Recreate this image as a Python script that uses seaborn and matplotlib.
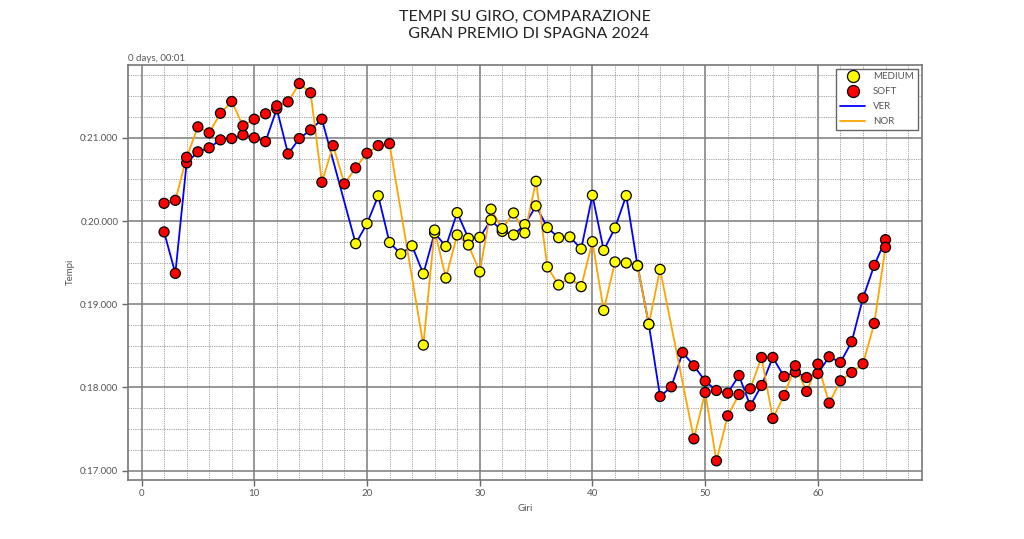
import numpy as np
import pandas as pd
import matplotlib
matplotlib.use("Agg")
import matplotlib.pyplot as plt
from matplotlib.ticker import MultipleLocator, FuncFormatter
import seaborn as sns

# ---------------- data (lap times in seconds) ----------------
ver_laps = [2, 3, 4, 5, 6, 7, 8, 9, 10, 11, 12, 13, 14, 15, 16,
            19, 20, 21, 22, 23, 24, 25, 26, 27, 28, 29, 30, 31, 32, 33, 34,
            35, 36, 37, 38, 39, 40, 41, 42, 43, 44, 45,
            46, 47, 48, 49, 50, 51, 52, 53, 54, 55, 56, 57, 58, 59, 60,
            61, 62, 63, 64, 65, 66]
ver_times = [79.869, 79.371, 80.699, 80.832, 80.880, 80.976, 80.992, 81.036, 81.000,
             80.955, 81.349, 80.807, 80.992, 81.096, 81.224,
             79.728, 79.969, 80.303, 79.742, 79.605, 79.702, 79.365, 79.857, 79.694,
             80.101, 79.792, 79.804, 80.013, 79.876, 79.833, 79.957,
             80.182, 79.921, 79.800, 79.809, 79.664, 80.309, 79.647, 79.917, 80.306,
             79.463, 78.759,
             77.890, 78.007, 78.420, 78.260, 78.076, 77.963, 77.931, 78.143, 77.779,
             78.023, 78.360, 78.131, 78.184, 78.119, 78.167,
             78.368, 78.300, 78.549, 79.075, 79.467, 79.776]
ver_compound = ["SOFT"] * 15 + ["MEDIUM"] * 27 + ["SOFT"] * 21

nor_laps = [2, 3, 4, 5, 6, 7, 8, 9, 10, 11, 12, 13, 14, 15, 16, 17, 18,
            19, 20, 21, 22,
            25, 26, 27, 28, 29, 30, 31, 32, 33, 34, 35, 36, 37, 38, 39, 40,
            41, 42, 43, 44, 45, 46,
            49, 50, 51, 52, 53, 54, 55, 56, 57, 58, 59, 60, 61, 62, 63, 64, 65, 66]
nor_times = [80.213, 80.249, 80.767, 81.132, 81.060, 81.296, 81.437, 81.144, 81.224,
             81.289, 81.385, 81.433, 81.653, 81.542, 80.466, 80.907, 80.446,
             80.639, 80.815, 80.907, 80.931,
             78.509, 79.892, 79.315, 79.833, 79.712, 79.389, 80.143, 79.909, 80.097,
             79.857, 80.478, 79.448, 79.231, 79.315, 79.211, 79.752,
             78.925, 79.508, 79.496, 79.463, 78.759, 79.419,
             77.381, 77.939, 77.117, 77.658, 77.915, 77.983, 78.360, 77.626, 77.903,
             78.260, 77.951, 78.280, 77.811, 78.079, 78.179, 78.284, 78.769, 79.684]
nor_compound = ["SOFT"] * 21 + ["MEDIUM"] * 22 + ["SOFT"] * 18

drivers = ["VER", "NOR"]
compounds = ["MEDIUM", "SOFT"]
driver_colors = {"VER": "blue", "NOR": "orange"}
compound_colors = {"MEDIUM": "yellow", "SOFT": "red"}

df = pd.concat([
    pd.DataFrame({"Giri": ver_laps, "Tempi": ver_times, "Compound": ver_compound, "Driver": "VER"}),
    pd.DataFrame({"Giri": nor_laps, "Tempi": nor_times, "Compound": nor_compound, "Driver": "NOR"}),
], ignore_index=True)

# ---------------- style ----------------
sns.set_theme(style="white")
plt.rcParams["font.family"] = ["Lato", "DejaVu Sans"]

fig, ax = plt.subplots(figsize=(10.24, 5.39), dpi=100)
fig.subplots_adjust(left=0.125, right=0.9, bottom=0.11, top=0.88)

sns.lineplot(data=df, x="Giri", y="Tempi", hue="Driver", hue_order=drivers,
             palette=driver_colors, linewidth=1.3, ax=ax, zorder=2)
sns.scatterplot(data=df, x="Giri", y="Tempi", hue="Compound", hue_order=compounds,
                palette=compound_colors, s=52, edgecolor="black", linewidth=0.9,
                ax=ax, zorder=3)

ax.margins(x=0.05, y=0.05)

# grid
ax.xaxis.set_major_locator(MultipleLocator(10))
ax.xaxis.set_minor_locator(MultipleLocator(2))
ax.yaxis.set_major_locator(MultipleLocator(1))
ax.yaxis.set_minor_locator(MultipleLocator(0.25))
ax.grid(which="major", color="#7a7a7a", linewidth=1.1, linestyle="-", zorder=0)
ax.grid(which="minor", color="#9a9a9a", linewidth=0.6, linestyle=(0, (1.5, 1.2)), zorder=0)
ax.set_axisbelow(True)

ax.yaxis.set_major_formatter(FuncFormatter(lambda v, p: "0:{:06.3f}".format(v - 60)))

for sp in ax.spines.values():
    sp.set_color("#777777")
    sp.set_linewidth(1.2)

ax.tick_params(axis="both", which="major", bottom=True, left=True, length=4,
               width=1, color="#666666", labelsize=7, labelcolor="#555555", pad=3)
ax.tick_params(axis="both", which="minor", bottom=False, left=False)

ax.set_xlabel("Giri", fontsize=7, color="#555555")
ax.set_ylabel("Tempi", fontsize=7, color="#555555")

ax.text(0.0, 1.004, "0 days, 00:01", transform=ax.transAxes, ha="left", va="bottom",
        fontsize=7, color="#555555")

ax.set_title("TEMPI SU GIRO, COMPARAZIONE\n  GRAN PREMIO DI SPAGNA 2024",
             fontsize=11.5, color="#222222", pad=19, linespacing=1.3)

handles, labels = ax.get_legend_handles_labels()
hmap = dict(zip(labels, handles))
order = compounds + drivers
leg = ax.legend([hmap[k] for k in order], order, loc="upper right", fontsize=7,
                frameon=True, fancybox=False, edgecolor="#666666", framealpha=1,
                borderaxespad=0.4, handlelength=2.6, labelspacing=0.6, markerscale=1.2)
leg.get_frame().set_linewidth(1.0)
for t in leg.get_texts():
    t.set_color("#555555")

fig.savefig("out.png", dpi=100)
